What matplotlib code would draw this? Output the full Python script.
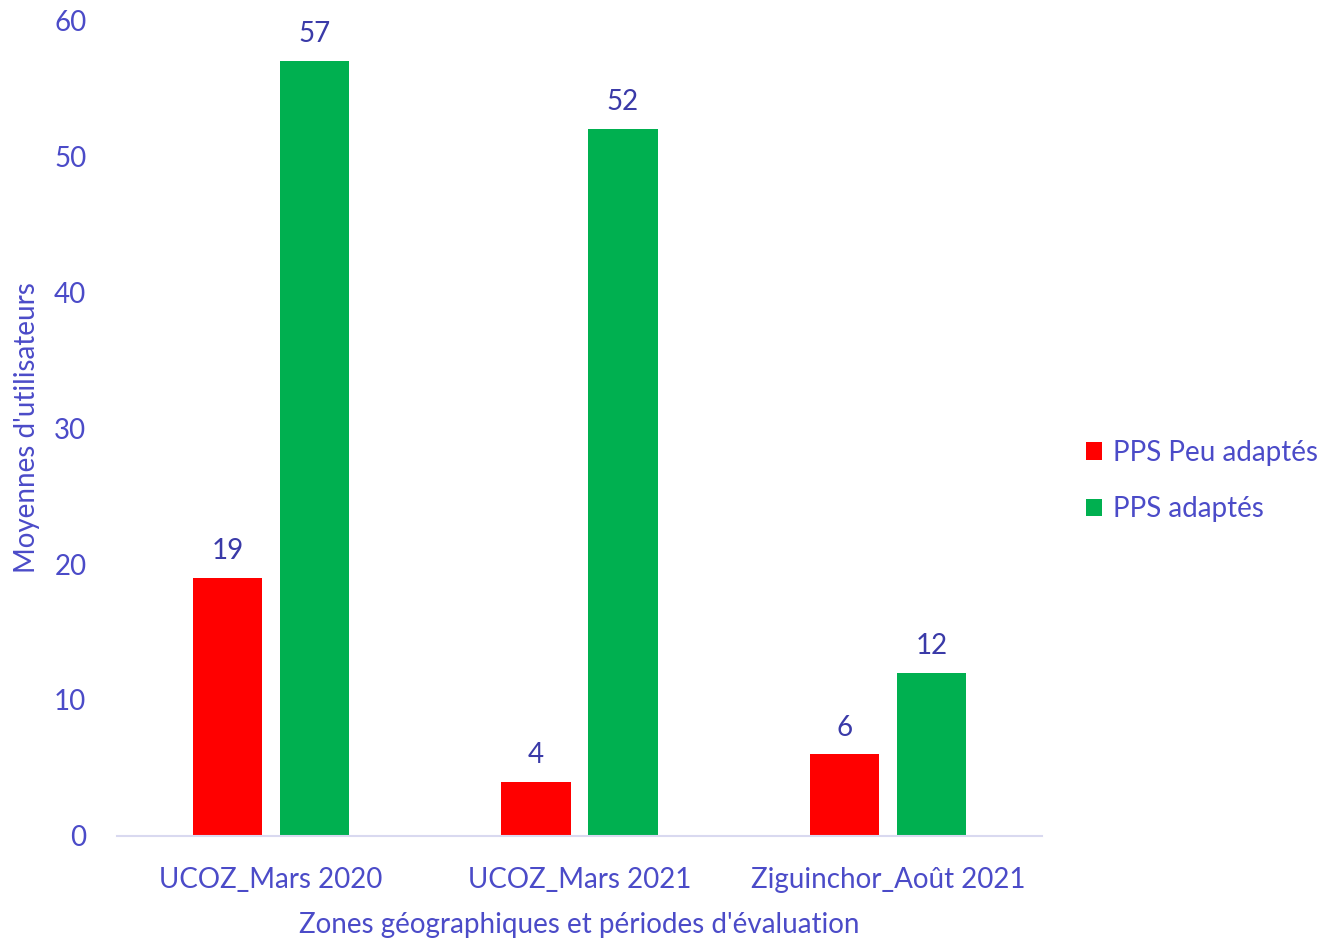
import matplotlib.pyplot as plt
import numpy as np

plt.rcParams['font.family'] = ['Lato', 'DejaVu Sans']

categories = ['UCOZ_Mars 2020', 'UCOZ_Mars 2021', 'Ziguinchor_Août 2021']
peu_adaptes = [19, 4, 6]
adaptes = [57, 52, 12]
series_names = ['PPS Peu adaptés', 'PPS adaptés']

text_col = '#4B4BC8'
label_col = '#3A3AA8'
red = '#FF0000'
green = '#00B050'

fig = plt.figure(figsize=(13.32, 9.41), dpi=100)
ax = fig.add_axes([0.0878, 0.1116, 0.6945, 0.8671])

x = np.arange(len(categories))
w = 0.224
off = 0.141
b1 = ax.bar(x - off, peu_adaptes, w, color=red, label=series_names[0])
b2 = ax.bar(x + off, adaptes, w, color=green, label=series_names[1])

for bars, vals in [(b1, peu_adaptes), (b2, adaptes)]:
    for rect, v in zip(bars, vals):
        ax.annotate(str(v), (rect.get_x() + rect.get_width() / 2, v),
                    xytext=(0, 10), textcoords='offset points',
                    ha='center', va='bottom', fontsize=20, color=label_col)

ax.set_xlim(-0.5, 2.5)
ax.set_ylim(0, 60)
ax.set_yticks(range(0, 61, 10))
ax.set_xticks(x)
ax.set_xticklabels(categories)
ax.tick_params(axis='both', length=0, labelsize=20, labelcolor=text_col)
ax.tick_params(axis='x', pad=22)
ax.tick_params(axis='y', pad=22)

for s in ['top', 'right', 'left']:
    ax.spines[s].set_visible(False)
ax.spines['bottom'].set_color('#D9D9F0')
ax.spines['bottom'].set_linewidth(1.5)

ax.set_xlabel("Zones géographiques et périodes d'évaluation", fontsize=20,
              color=text_col, labelpad=14)
ax.set_ylabel("Moyennes d'utilisateurs", fontsize=20, color=text_col, labelpad=10)

leg = ax.legend(loc='center left', bbox_to_anchor=(1.02, 0.435), frameon=False,
                fontsize=20, handlelength=0.6, handleheight=0.6,
                handletextpad=0.4, labelspacing=1.1)
for t in leg.get_texts():
    t.set_color(text_col)

fig.savefig('out.png', dpi=100)
